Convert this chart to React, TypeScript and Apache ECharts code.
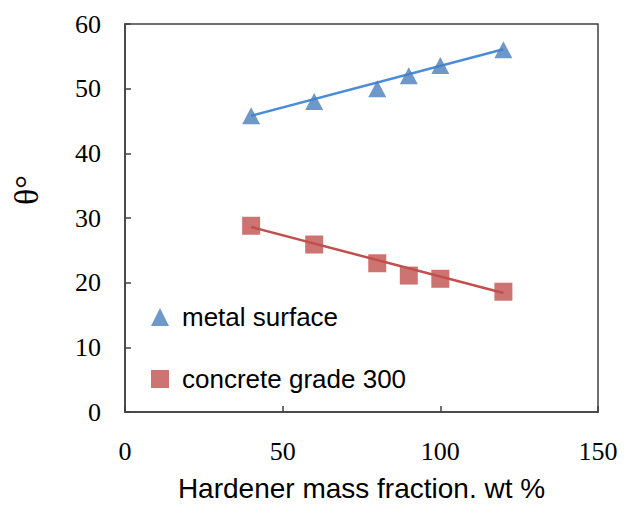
import React, { useEffect, useRef } from "react";
import * as echarts from "echarts";

const xValues = [40, 60, 80, 90, 100, 120];
const metalSurface = [45.8, 48.0, 50.0, 52.0, 53.6, 56.0];
const concrete300 = [28.8, 25.9, 23.0, 21.1, 20.6, 18.6];
const metalTrendX = [40, 120];
const metalTrendY = [45.8, 56.1];
const concreteTrendX = [40, 120];
const concreteTrendY = [28.6, 18.4];

const seriesNames = ["metal surface", "concrete grade 300"];
const xAxisTitle = "Hardener mass fraction. wt %";
const yAxisTitle = "θ°";

const zip = (xs: number[], ys: number[]) => xs.map((x, i) => [x, ys[i]]);

export default function App() {
  const ref = useRef<HTMLDivElement>(null);
  useEffect(() => {
    if (!ref.current) return;
    const chart = echarts.init(ref.current, null, { renderer: "svg" });
    const axisColor = "#404040";
    chart.setOption({
      animation: false,
      backgroundColor: "#ffffff",
      grid: {
        left: 125,
        top: 24,
        width: 473,
        height: 396,
        show: true,
        borderColor: axisColor,
        borderWidth: 1.5,
      },
      legend: {
        orient: "vertical",
        left: 146,
        top: 299,
        itemGap: 36,
        itemWidth: 18,
        itemHeight: 18,
        data: [
          { name: seriesNames[0], icon: "triangle" },
          { name: seriesNames[1], icon: "rect" },
        ],
        textStyle: {
          fontFamily: "Liberation Sans, Arial, sans-serif",
          fontSize: 26,
          color: "#000",
          padding: [0, 0, 0, 8],
        },
      },
      xAxis: {
        type: "value",
        min: 0,
        max: 150,
        interval: 50,
        name: xAxisTitle,
        nameLocation: "middle",
        nameGap: 62,
        nameTextStyle: {
          fontFamily: "Liberation Sans, Arial, sans-serif",
          fontSize: 28,
          color: "#000",
        },
        axisLine: { lineStyle: { color: axisColor, width: 1.5 } },
        axisTick: { inside: true, length: 6, lineStyle: { color: axisColor, width: 1.5 } },
        axisLabel: {
          fontFamily: "Liberation Serif, Times New Roman, serif",
          fontSize: 26,
          color: "#000",
          margin: 26,
        },
        splitLine: { show: false },
      },
      yAxis: {
        type: "value",
        min: 0,
        max: 60,
        interval: 10,
        axisLine: { lineStyle: { color: axisColor, width: 1.5 } },
        axisTick: { inside: true, length: 6, lineStyle: { color: axisColor, width: 1.5 } },
        axisLabel: {
          fontFamily: "Liberation Serif, Times New Roman, serif",
          fontSize: 26,
          color: "#000",
          margin: 24,
        },
        splitLine: { show: false },
      },
      graphic: [
        {
          type: "text",
          x: 26,
          y: 190,
          rotation: Math.PI / 2,
          style: {
            text: yAxisTitle,
            fontFamily: "Liberation Serif, Times New Roman, serif",
            fontSize: 34,
            fill: "#000",
            align: "center",
            verticalAlign: "middle",
          },
        },
      ],
      series: [
        {
          type: "line",
          data: zip(metalTrendX, metalTrendY),
          showSymbol: false,
          symbol: "none",
          lineStyle: { color: "#4a8bdc", width: 2.5 },
          silent: true,
          z: 1,
        },
        {
          type: "line",
          data: zip(concreteTrendX, concreteTrendY),
          showSymbol: false,
          symbol: "none",
          lineStyle: { color: "#c0504d", width: 2.5 },
          silent: true,
          z: 1,
        },
        {
          name: seriesNames[0],
          type: "scatter",
          symbol: "triangle",
          symbolSize: [18, 17],
          data: zip(xValues, metalSurface),
          itemStyle: { color: "#4a7ebb" },
          z: 3,
        },
        {
          name: seriesNames[1],
          type: "scatter",
          symbol: "rect",
          symbolSize: 18,
          data: zip(xValues, concrete300),
          itemStyle: { color: "#c0504d" },
          z: 3,
        },
      ],
    });
    return () => chart.dispose();
  }, []);
  return (
    <div
      ref={ref}
      style={{ position: "fixed", left: 0, top: 0, width: 624, height: 507 }}
    />
  );
}
